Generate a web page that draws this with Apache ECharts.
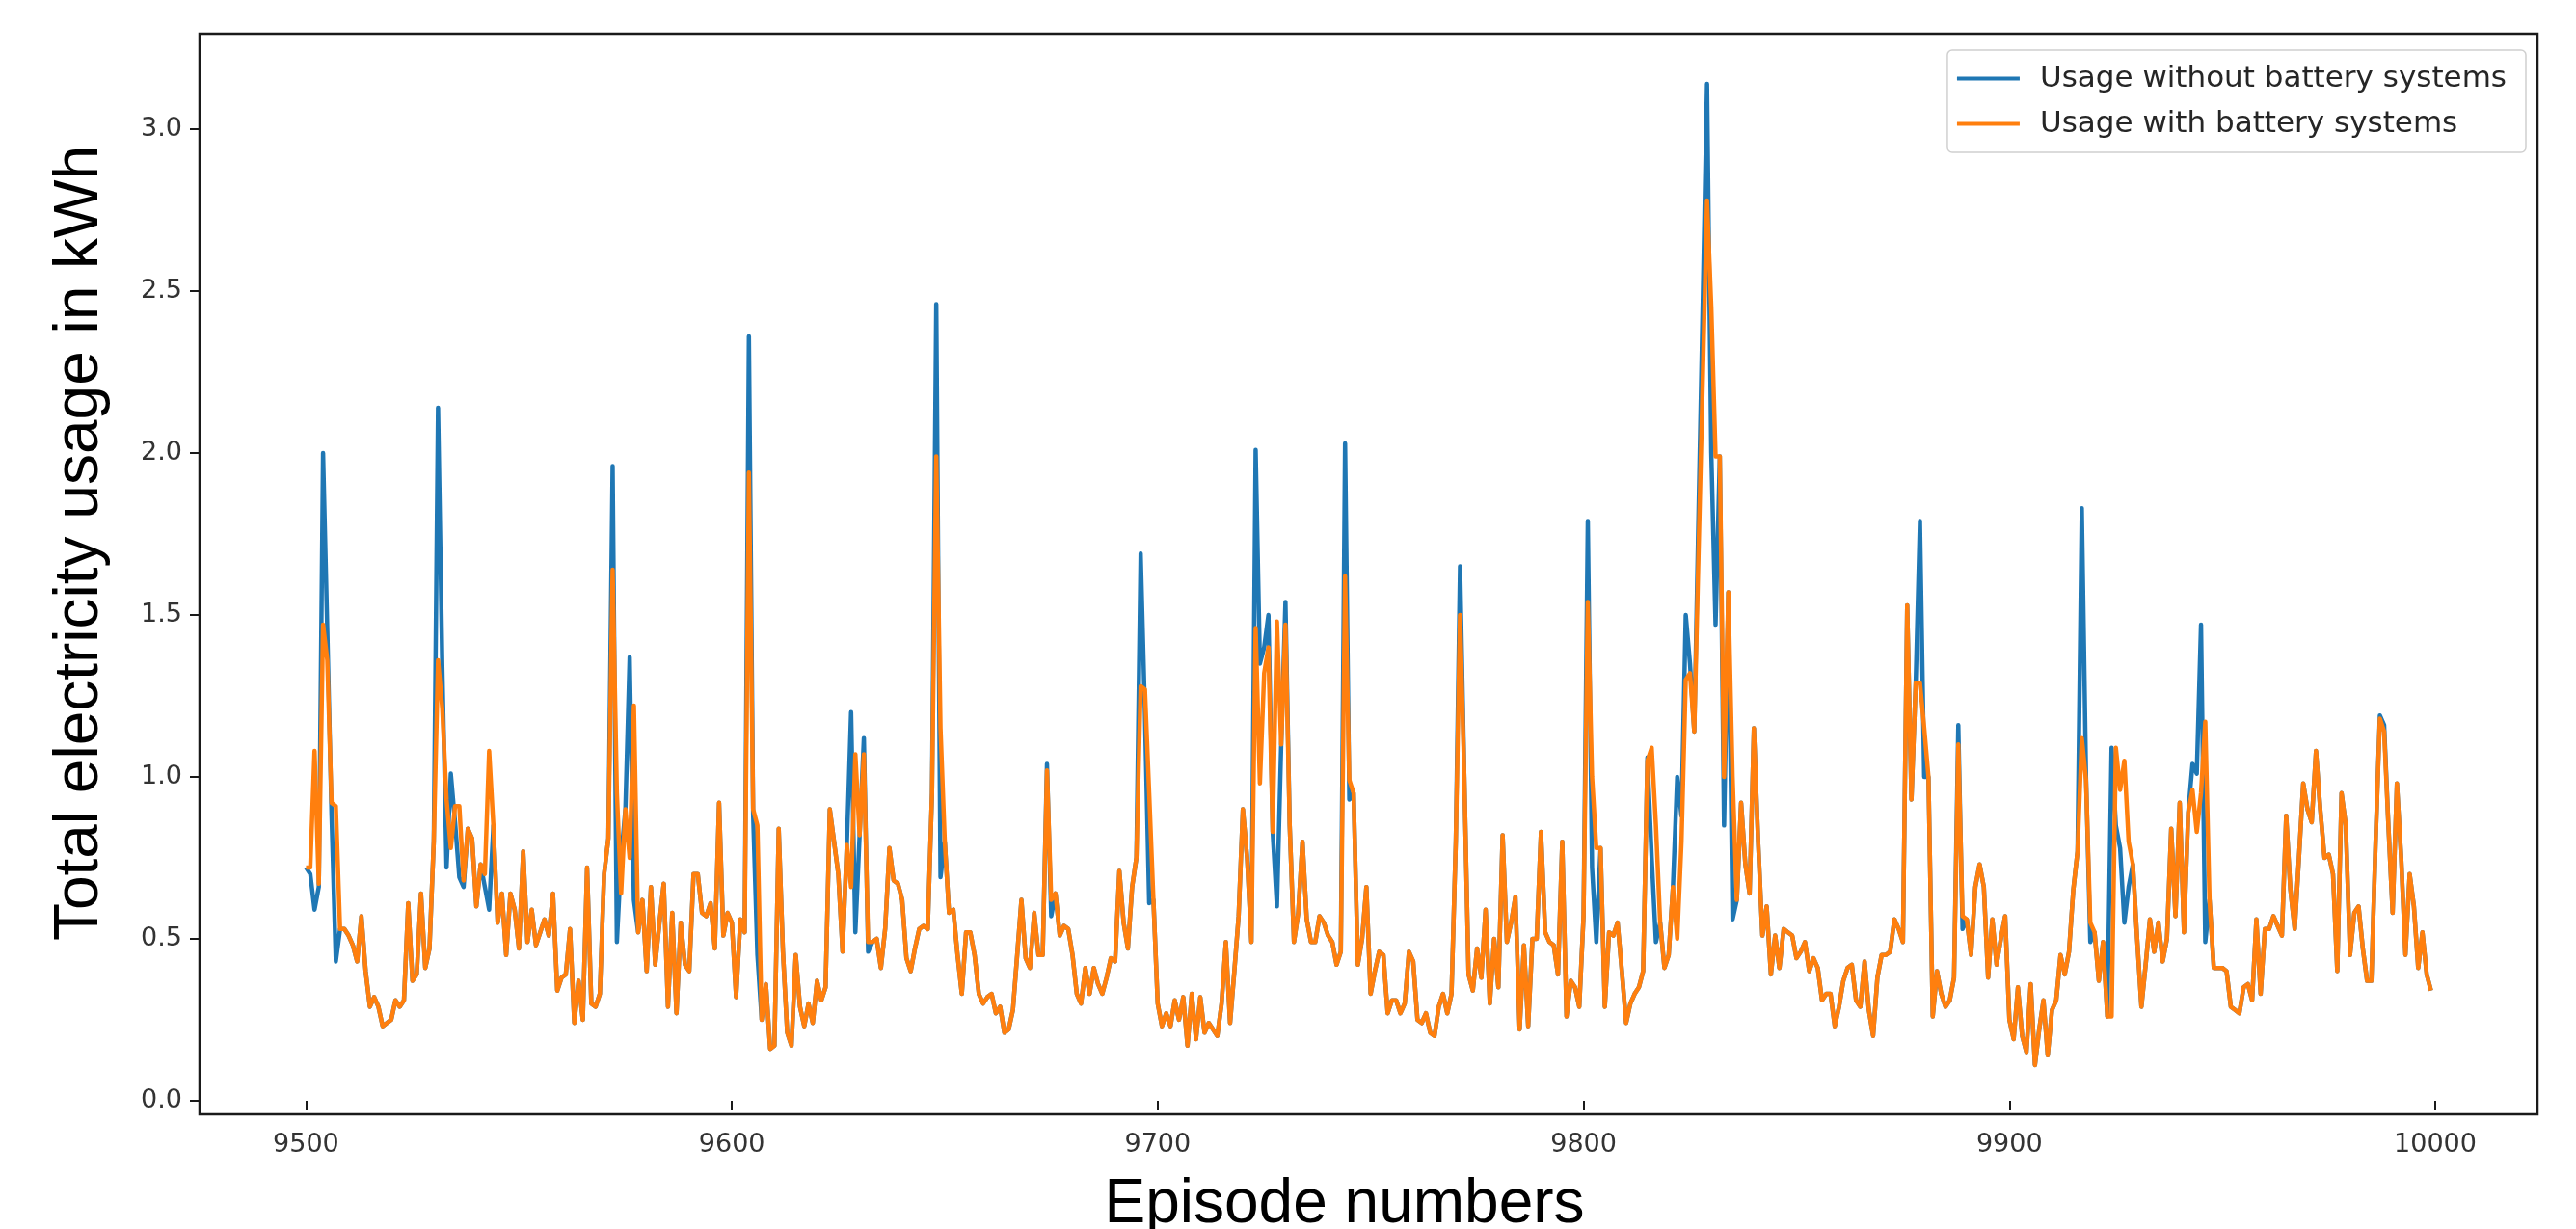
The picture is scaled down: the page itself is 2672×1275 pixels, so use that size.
<!DOCTYPE html>
<html>
<head>
<meta charset="utf-8">
<script src="https://cdn.jsdelivr.net/npm/echarts@6/dist/echarts.min.js"></script>
<style>
html,body{margin:0;padding:0;background:#fff;}
#chart{width:2672px;height:1275px;}
</style>
</head>
<body>
<div id="chart"></div>
<script>
const firstEpisode = 9500;
const seriesNames = ['Usage without battery systems', 'Usage with battery systems'];
const xTicks = [9500, 9600, 9700, 9800, 9900, 10000];
const yTicks = [0, 0.5, 1.0, 1.5, 2.0, 2.5, 3.0];

const usageWithout = [
0.72,0.70,0.59,0.66,2.00,1.45,0.88,0.43,0.53,0.53,
0.51,0.48,0.43,0.57,0.40,0.29,0.32,0.29,0.23,0.24,
0.25,0.31,0.29,0.31,0.61,0.37,0.39,0.64,0.41,0.47,
0.80,2.14,1.34,0.72,1.01,0.86,0.69,0.66,0.84,0.81,
0.60,0.73,0.66,0.59,0.85,0.55,0.64,0.45,0.64,0.59,
0.47,0.77,0.49,0.59,0.48,0.52,0.56,0.51,0.64,0.34,
0.38,0.39,0.53,0.24,0.37,0.25,0.72,0.30,0.29,0.33,
0.70,0.81,1.96,0.49,0.75,0.90,1.37,0.62,0.52,0.62,
0.40,0.66,0.42,0.55,0.67,0.29,0.58,0.27,0.55,0.42,
0.40,0.70,0.70,0.58,0.57,0.61,0.47,0.92,0.51,0.58,
0.55,0.32,0.56,0.52,2.36,0.88,0.45,0.25,0.36,0.16,
0.17,0.84,0.46,0.21,0.17,0.45,0.29,0.23,0.30,0.24,
0.37,0.31,0.35,0.90,0.80,0.70,0.46,0.79,1.20,0.52,
0.82,1.12,0.46,0.49,0.50,0.41,0.53,0.78,0.68,0.67,
0.62,0.44,0.40,0.47,0.53,0.54,0.53,0.95,2.46,0.69,
0.80,0.58,0.59,0.45,0.33,0.52,0.52,0.45,0.33,0.30,
0.32,0.33,0.27,0.29,0.21,0.22,0.28,0.45,0.62,0.44,
0.41,0.58,0.45,0.45,1.04,0.57,0.64,0.51,0.54,0.53,
0.45,0.33,0.30,0.41,0.33,0.41,0.36,0.33,0.38,0.44,
0.43,0.71,0.55,0.47,0.66,0.75,1.69,1.20,0.61,0.62,
0.30,0.23,0.27,0.23,0.31,0.25,0.32,0.17,0.33,0.19,
0.32,0.21,0.24,0.22,0.20,0.30,0.49,0.24,0.40,0.57,
0.90,0.75,0.49,2.01,1.35,1.40,1.50,0.83,0.60,1.10,
1.54,0.85,0.49,0.58,0.80,0.56,0.49,0.49,0.57,0.55,
0.51,0.49,0.42,0.46,2.03,0.93,0.95,0.42,0.50,0.66,
0.33,0.40,0.46,0.45,0.27,0.31,0.31,0.27,0.30,0.46,
0.43,0.25,0.24,0.27,0.21,0.20,0.29,0.33,0.27,0.33,
0.80,1.65,1.00,0.39,0.34,0.47,0.38,0.59,0.30,0.50,
0.35,0.82,0.49,0.55,0.63,0.22,0.48,0.23,0.50,0.50,
0.83,0.52,0.49,0.48,0.39,0.80,0.26,0.37,0.35,0.29,
0.57,1.79,0.72,0.49,0.78,0.29,0.52,0.51,0.55,0.40,
0.24,0.30,0.33,0.35,0.40,1.06,0.75,0.49,0.55,0.41,
0.45,0.66,1.00,0.88,1.50,1.35,1.14,1.81,2.47,3.14,
2.00,1.47,1.99,0.85,1.57,0.56,0.62,0.92,0.73,0.64,
1.15,0.80,0.51,0.60,0.39,0.51,0.41,0.53,0.52,0.51,
0.44,0.46,0.49,0.40,0.44,0.41,0.31,0.33,0.33,0.23,
0.29,0.37,0.41,0.42,0.31,0.29,0.43,0.28,0.20,0.38,
0.45,0.45,0.46,0.56,0.53,0.49,1.53,0.93,1.29,1.79,
1.00,1.00,0.26,0.40,0.33,0.29,0.31,0.38,1.16,0.53,
0.56,0.45,0.66,0.73,0.66,0.38,0.56,0.42,0.50,0.57,
0.25,0.19,0.35,0.20,0.15,0.36,0.11,0.22,0.31,0.14,
0.28,0.31,0.45,0.39,0.46,0.65,0.77,1.83,1.00,0.49,
0.52,0.37,0.49,0.26,1.09,0.85,0.78,0.55,0.66,0.73,
0.50,0.29,0.42,0.56,0.46,0.55,0.43,0.50,0.84,0.57,
0.92,0.52,0.89,1.04,1.01,1.47,0.49,0.62,0.41,0.41,
0.41,0.40,0.29,0.28,0.27,0.35,0.36,0.31,0.56,0.33,
0.53,0.53,0.57,0.54,0.51,0.88,0.65,0.53,0.75,0.98,
0.90,0.86,1.08,0.90,0.75,0.76,0.70,0.40,0.95,0.85,
0.45,0.58,0.60,0.47,0.37,0.37,0.80,1.19,1.16,0.85,
0.58,0.98,0.75,0.45,0.70,0.60,0.41,0.52,0.39,0.34
];

const usageWith = [
0.72,0.72,1.08,0.67,1.47,1.36,0.92,0.91,0.53,0.53,
0.51,0.48,0.43,0.57,0.40,0.29,0.32,0.29,0.23,0.24,
0.25,0.31,0.29,0.31,0.61,0.37,0.39,0.64,0.41,0.47,
0.80,1.36,1.21,0.93,0.78,0.91,0.91,0.68,0.84,0.81,
0.60,0.73,0.70,1.08,0.85,0.55,0.64,0.45,0.64,0.59,
0.47,0.77,0.49,0.59,0.48,0.52,0.56,0.51,0.64,0.34,
0.38,0.39,0.53,0.24,0.37,0.25,0.72,0.30,0.29,0.33,
0.70,0.81,1.64,0.95,0.64,0.90,0.75,1.22,0.52,0.62,
0.40,0.66,0.42,0.55,0.67,0.29,0.58,0.27,0.55,0.42,
0.40,0.70,0.70,0.58,0.57,0.61,0.47,0.92,0.51,0.58,
0.55,0.32,0.56,0.52,1.94,0.90,0.85,0.25,0.36,0.16,
0.17,0.84,0.46,0.21,0.17,0.45,0.29,0.23,0.30,0.24,
0.37,0.31,0.35,0.90,0.80,0.70,0.46,0.79,0.66,1.07,
0.82,1.07,0.49,0.49,0.50,0.41,0.53,0.78,0.68,0.67,
0.62,0.44,0.40,0.47,0.53,0.54,0.53,0.95,1.99,1.15,
0.80,0.58,0.59,0.45,0.33,0.52,0.52,0.45,0.33,0.30,
0.32,0.33,0.27,0.29,0.21,0.22,0.28,0.45,0.62,0.44,
0.41,0.58,0.45,0.45,1.02,0.62,0.64,0.51,0.54,0.53,
0.45,0.33,0.30,0.41,0.33,0.41,0.36,0.33,0.38,0.44,
0.43,0.71,0.55,0.47,0.66,0.75,1.28,1.27,0.95,0.62,
0.30,0.23,0.27,0.23,0.31,0.25,0.32,0.17,0.33,0.19,
0.32,0.21,0.24,0.22,0.20,0.30,0.49,0.24,0.40,0.57,
0.90,0.75,0.49,1.46,0.98,1.32,1.40,0.83,1.48,1.10,
1.47,0.85,0.49,0.58,0.80,0.56,0.49,0.49,0.57,0.55,
0.51,0.49,0.42,0.46,1.62,0.99,0.95,0.42,0.50,0.66,
0.33,0.40,0.46,0.45,0.27,0.31,0.31,0.27,0.30,0.46,
0.43,0.25,0.24,0.27,0.21,0.20,0.29,0.33,0.27,0.33,
0.80,1.50,1.00,0.39,0.34,0.47,0.38,0.59,0.30,0.50,
0.35,0.82,0.49,0.55,0.63,0.22,0.48,0.23,0.50,0.50,
0.83,0.52,0.49,0.48,0.39,0.80,0.26,0.37,0.35,0.29,
0.57,1.54,1.00,0.78,0.78,0.29,0.52,0.51,0.55,0.40,
0.24,0.30,0.33,0.35,0.40,1.05,1.09,0.85,0.55,0.41,
0.45,0.66,0.50,0.80,1.30,1.32,1.14,1.69,2.23,2.78,
2.45,1.99,1.99,1.00,1.57,1.00,0.62,0.92,0.73,0.64,
1.15,0.80,0.51,0.60,0.39,0.51,0.41,0.53,0.52,0.51,
0.44,0.46,0.49,0.40,0.44,0.41,0.31,0.33,0.33,0.23,
0.29,0.37,0.41,0.42,0.31,0.29,0.43,0.28,0.20,0.38,
0.45,0.45,0.46,0.56,0.53,0.49,1.53,0.93,1.29,1.29,
1.15,1.00,0.26,0.40,0.33,0.29,0.31,0.38,1.10,0.57,
0.56,0.45,0.66,0.73,0.66,0.38,0.56,0.42,0.50,0.57,
0.25,0.19,0.35,0.20,0.15,0.36,0.11,0.22,0.31,0.14,
0.28,0.31,0.45,0.39,0.46,0.65,0.77,1.12,0.99,0.55,
0.52,0.37,0.49,0.26,0.26,1.09,0.96,1.05,0.80,0.73,
0.50,0.29,0.42,0.56,0.46,0.55,0.43,0.50,0.84,0.57,
0.92,0.52,0.89,0.96,0.83,0.95,1.17,0.62,0.41,0.41,
0.41,0.40,0.29,0.28,0.27,0.35,0.36,0.31,0.56,0.33,
0.53,0.53,0.57,0.54,0.51,0.88,0.65,0.53,0.75,0.98,
0.90,0.86,1.08,0.90,0.75,0.76,0.70,0.40,0.95,0.85,
0.45,0.58,0.60,0.47,0.37,0.37,0.80,1.18,1.14,0.85,
0.58,0.98,0.75,0.45,0.70,0.60,0.41,0.52,0.39,0.34
];

const episodes = usageWith.map((_, i) => firstEpisode + i);
const toPairs = arr => arr.map((v, i) => [episodes[i], v]);

const chart = echarts.init(document.getElementById('chart'), null, {renderer: 'canvas'});
const tickFont = {fontFamily: "'DejaVu Sans', sans-serif", fontSize: 27, color: '#333333'};
const titleFont = {fontFamily: "'Liberation Sans', Arial, sans-serif", fontSize: 64, color: '#000'};

chart.setOption({
  animation: false,
  backgroundColor: '#ffffff',
  grid: {
    left: 207, right: 40, top: 35, bottom: 119,
    outerBoundsMode: 'none',
    containLabel: false,
    show: true, borderColor: '#1a1a1a', borderWidth: 2.5, backgroundColor: 'transparent'
  },
  legend: {
    orient: 'vertical',
    right: 52, top: 52,
    data: seriesNames.map(n => ({name: n, icon: 'rect'})),
    itemWidth: 65, itemHeight: 4, itemGap: 12,
    padding: [12, 20, 12, 10],
    borderColor: '#d0d0d0', borderWidth: 1.5, borderRadius: 5,
    backgroundColor: 'rgba(255,255,255,0.8)',
    textStyle: {fontFamily: "'DejaVu Sans', sans-serif", fontSize: 31, color: '#262626', lineHeight: 35, padding: [0, 0, 0, 16]}
  },
  xAxis: {
    type: 'value',
    min: 9475, max: 10024,
    name: 'Episode numbers',
    nameLocation: 'middle',
    nameGap: 62,
    nameTextStyle: Object.assign({padding: [0, 50, 0, 0]}, titleFont),
    axisLine: {show: false},
    axisTick: {show: true, length: 10, inside: false, lineStyle: {color: '#1a1a1a', width: 2}, customValues: xTicks},
    axisLabel: Object.assign({margin: 18, customValues: xTicks, formatter: v => String(v)}, tickFont),
    splitLine: {show: false}
  },
  yAxis: {
    type: 'value',
    min: -0.042, max: 3.295,
    name: 'Total electricity usage in kWh',
    nameLocation: 'middle',
    nameRotate: 90,
    nameGap: 92,
    nameTextStyle: Object.assign({padding: [0, 0, 0, 64]}, titleFont),
    axisLine: {show: false},
    axisTick: {show: true, length: 10, lineStyle: {color: '#1a1a1a', width: 2}, customValues: yTicks},
    axisLabel: Object.assign({margin: 18, customValues: yTicks, formatter: v => Number(v).toFixed(1)}, tickFont),
    splitLine: {show: false}
  },
  series: [
    {
      name: seriesNames[0], type: 'line', data: toPairs(usageWithout),
      showSymbol: false, symbol: 'none',
      lineStyle: {color: '#1f77b4', width: 4.5, join: 'round'},
      itemStyle: {color: '#1f77b4'}
    },
    {
      name: seriesNames[1], type: 'line', data: toPairs(usageWith),
      showSymbol: false, symbol: 'none',
      lineStyle: {color: '#ff7f0e', width: 4.5, join: 'round'},
      itemStyle: {color: '#ff7f0e'}
    }
  ]
});
</script>
</body>
</html>
